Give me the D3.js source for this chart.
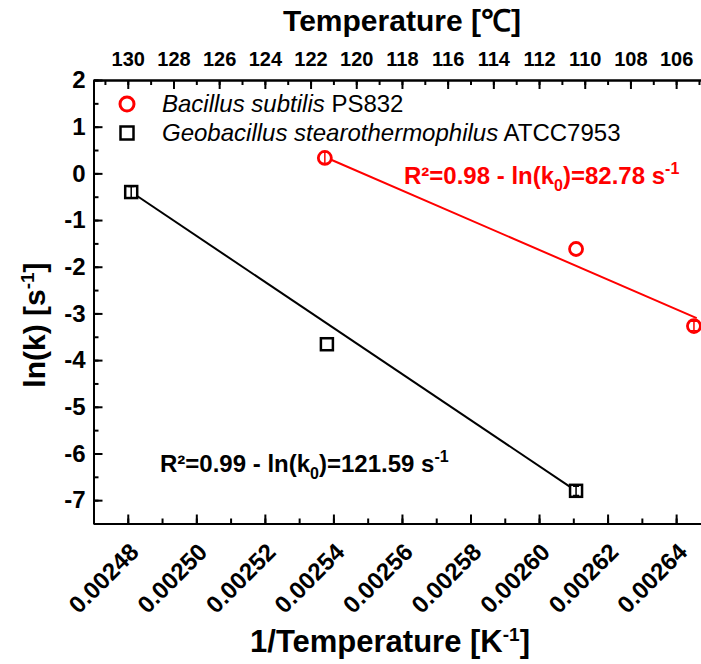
<!DOCTYPE html>
<html>
<head>
<meta charset="utf-8">
<script src="https://cdn.jsdelivr.net/npm/d3@7/dist/d3.min.js"></script>
<style>
body { margin: 0; background: #fff; }
svg text { font-family: "Liberation Sans", Arial, sans-serif; }
.axis path, .axis line { stroke: #000; stroke-width: 2px; }
</style>
</head>
<body>
<svg id="chart" width="701" height="664"></svg>
<script>
// tick values
var xTicks = [0.00248, 0.00250, 0.00252, 0.00254, 0.00256, 0.00258, 0.00260, 0.00262, 0.00264];
var yTicks = [2, 1, 0, -1, -2, -3, -4, -5, -6, -7];
var tempTicks = [130, 128, 126, 124, 122, 120, 118, 116, 114, 112, 110, 108, 106];

// Bacillus subtilis PS832
var bsX = [0.0025375, 0.0026108, 0.0026452];
var bsY = [0.33, -1.62, -3.27];
var bsErr = [0.12, 0, 0.10];
var bsFitX = [0.0025375, 0.0026460];
var bsFitY = [0.35, -3.10];

// Geobacillus stearothermophilus ATCC7953
var gsX = [0.0024810, 0.0025381, 0.0026108];
var gsY = [-0.40, -3.66, -6.80];
var gsErr = [0.12, 0, 0.10];
var gsFitX = [0.0024810, 0.0026108];
var gsFitY = [-0.40, -6.80];

var svg = d3.select("#chart"),
    margin = {left: 93.5, right: 720, top: 80, bottom: 523.5};

svg.append("rect").attr("width", 701).attr("height", 664).attr("fill", "#fff");

var x = d3.scaleLinear().domain([0.00247, 0.0026528]).range([margin.left, margin.right]);
var y = d3.scaleLinear().domain([-7.5, 2]).range([margin.bottom, margin.top]);

// top axis: temperature, linked to the bottom one
var t = d3.scaleLinear().domain([130, 106]).range([x(0.00248), x(0.00264)]);
t.domain([t.invert(margin.left), t.invert(margin.right)]).range([margin.left, margin.right]);

function minor(lo, hi, step) {
  var out = [];
  for (var v = lo; v <= hi + step / 2; v += step) out.push(+v.toFixed(7));
  return out;
}

// minor ticks
svg.append("g").attr("class", "axis").attr("transform", "translate(0," + margin.bottom + ")")
   .call(d3.axisBottom(x).tickValues(minor(0.00247, 0.00265, 0.00001)).tickSize(-5).tickSizeOuter(0).tickFormat(""));
svg.append("g").attr("class", "axis").attr("transform", "translate(0," + margin.top + ")")
   .call(d3.axisTop(t).tickValues(minor(105, 131, 1)).tickSize(-5).tickSizeOuter(0).tickFormat(""));
svg.append("g").attr("class", "axis").attr("transform", "translate(" + margin.left + ",0)")
   .call(d3.axisLeft(y).tickValues(minor(-7.5, 2, 0.5)).tickSize(-5).tickSizeOuter(0).tickFormat(""));

// major ticks
var gx = svg.append("g").attr("class", "axis").attr("transform", "translate(0," + margin.bottom + ")")
   .call(d3.axisBottom(x).tickValues(xTicks).tickSize(-9).tickSizeOuter(0).tickFormat(d3.format(".5f")));
gx.selectAll("text")
   .attr("x", 0).attr("y", 0).attr("dy", "0.35em")
   .attr("text-anchor", "end")
   .attr("transform", "translate(6,24) rotate(-45)")
   .style("font-size", "24px").style("font-weight", "bold");

var gt = svg.append("g").attr("class", "axis").attr("transform", "translate(0," + margin.top + ")")
   .call(d3.axisTop(t).tickValues(tempTicks).tickSize(-9).tickSizeOuter(0).tickPadding(14));
gt.selectAll("text").style("font-size", "20px").style("font-weight", "bold");

var gy = svg.append("g").attr("class", "axis").attr("transform", "translate(" + margin.left + ",0)")
   .call(d3.axisLeft(y).tickValues(yTicks).tickSize(-9).tickSizeOuter(0).tickPadding(8)
   .tickFormat(function(d) { return String(d); }));
gy.selectAll("text").style("font-size", "24px").style("font-weight", "bold");

// axis titles
svg.append("text").attr("x", 402).attr("y", 31).attr("text-anchor", "middle")
   .style("font-size", "30px").style("font-weight", "bold").text("Temperature [℃]");

var xt = svg.append("text").attr("x", 390).attr("y", 652).attr("text-anchor", "middle")
   .style("font-size", "31px").style("font-weight", "bold");
xt.append("tspan").text("1/Temperature [K");
xt.append("tspan").attr("dy", -11).style("font-size", "19px").text("-1");
xt.append("tspan").attr("dy", 11).text("]");

var yt = svg.append("text").attr("transform", "translate(45,325) rotate(-90)").attr("text-anchor", "middle")
   .style("font-size", "30px").style("font-weight", "bold");
yt.append("tspan").text("ln(k) [s");
yt.append("tspan").attr("dy", -11).style("font-size", "19px").text("-1");
yt.append("tspan").attr("dy", 11).text("]");

// fit lines
var line = d3.line().x(function(d) { return x(d[0]); }).y(function(d) { return y(d[1]); });
svg.append("path").datum(d3.zip(gsFitX, gsFitY)).attr("d", line)
   .attr("fill", "none").attr("stroke", "#000").attr("stroke-width", 2);
svg.append("path").datum(d3.zip(bsFitX, bsFitY)).attr("d", line)
   .attr("fill", "none").attr("stroke", "#ff0000").attr("stroke-width", 2);

// points
function errBars(g, xs, ys, es, color) {
  g.selectAll(null).data(d3.range(xs.length).filter(function(i) { return es[i] > 0; })).enter()
   .append("path")
   .attr("d", function(i) {
     var cx = x(xs[i]), y1 = y(ys[i] + es[i]), y2 = y(ys[i] - es[i]);
     return "M" + (cx - 3) + "," + y1 + "H" + (cx + 3) + "M" + cx + "," + y1 + "V" + y2 +
            "M" + (cx - 3) + "," + y2 + "H" + (cx + 3);
   })
   .attr("stroke", color).attr("stroke-width", 1.5).attr("fill", "none");
}

var gGs = svg.append("g");
gGs.selectAll("rect").data(d3.zip(gsX, gsY)).enter().append("rect")
   .attr("x", function(d) { return x(d[0]) - 6; })
   .attr("y", function(d) { return y(d[1]) - 6; })
   .attr("width", 12).attr("height", 12)
   .attr("fill", "#fff").attr("stroke", "#000").attr("stroke-width", 2.5);
errBars(gGs, gsX, gsY, gsErr, "#000");

var gBs = svg.append("g");
gBs.selectAll("circle").data(d3.zip(bsX, bsY)).enter().append("circle")
   .attr("cx", function(d) { return x(d[0]); })
   .attr("cy", function(d) { return y(d[1]); })
   .attr("r", 6.5)
   .attr("fill", "#fff").attr("stroke", "#ff0000").attr("stroke-width", 2.8);
errBars(gBs, bsX, bsY, bsErr, "#ff0000");

// legend
var leg = svg.append("g");
leg.append("circle").attr("cx", 127).attr("cy", 104).attr("r", 7)
   .attr("fill", "none").attr("stroke", "#ff0000").attr("stroke-width", 3);
leg.append("rect").attr("x", 120.5).attr("y", 126.5).attr("width", 13).attr("height", 13)
   .attr("fill", "none").attr("stroke", "#000").attr("stroke-width", 2.5);
var l1 = leg.append("text").attr("x", 162).attr("y", 112).style("font-size", "24px");
l1.append("tspan").style("font-style", "italic").text("Bacillus subtilis");
l1.append("tspan").text(" PS832");
var l2 = leg.append("text").attr("x", 162).attr("y", 141).style("font-size", "24px");
l2.append("tspan").style("font-style", "italic").text("Geobacillus stearothermophilus");
l2.append("tspan").text(" ATCC7953");

// fit annotations
function annot(px, py, r2, k0, color) {
  var a = svg.append("text").attr("x", px).attr("y", py)
     .style("font-size", "24px").style("font-weight", "bold").attr("fill", color);
  a.append("tspan").text("R²=" + r2 + " - ln(k");
  a.append("tspan").attr("dy", 7).style("font-size", "16px").text("0");
  a.append("tspan").attr("dy", -7).text(")=" + k0 + " s");
  a.append("tspan").attr("dy", -10).style("font-size", "16px").text("-1");
}
annot(404, 184, "0.98", "82.78", "#ff0000");
annot(160, 472, "0.99", "121.59", "#000");
</script>
</body>
</html>
